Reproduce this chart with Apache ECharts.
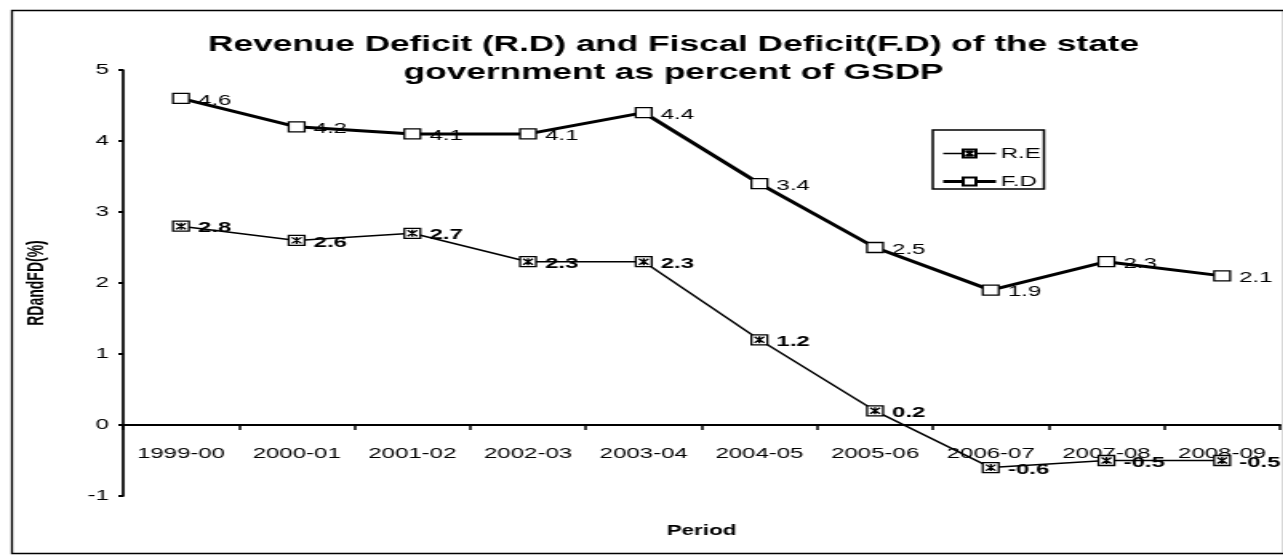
<!DOCTYPE html>
<html><head><meta charset="utf-8">
<script src="https://cdn.jsdelivr.net/npm/echarts@6/dist/echarts.min.js"></script>
<style>
html,body{margin:0;padding:0;background:#fff;overflow:hidden}
#wrap{width:1283px;height:560px;overflow:hidden}
#c{width:802px;height:560px;transform:scaleX(1.6);transform-origin:0 0}
</style>
</head><body><div id="wrap"><div id="c"></div></div>
<script>
const categories = ['1999-00','2000-01','2001-02','2002-03','2003-04','2004-05','2005-06','2006-07','2007-08','2008-09'];
const reValues = [2.8, 2.6, 2.7, 2.3, 2.3, 1.2, 0.2, -0.6, -0.5, -0.5];
const fdValues = [4.6, 4.2, 4.1, 4.1, 4.4, 3.4, 2.5, 1.9, 2.3, 2.1];
const yTicks = [-1, 0, 1, 2, 3, 4, 5];

const font = 'Liberation Sans, Arial, sans-serif';
const reSymbol = 'path://M0,0H10V10H0Z M2,2L8,8 M8,2L2,8 M5,1.5V8.5';
const chart = echarts.init(document.getElementById('c'));
chart.setOption({
  animation: false,
  backgroundColor: '#fff',
  title: {
    text: 'Revenue Deficit (R.D) and Fiscal Deficit(F.D) of the state\ngovernment as percent of GSDP',
    left: 416, top: 26, textAlign: 'center',
    textStyle: { fontFamily: font, fontSize: 22, fontWeight: 'bold', color: '#000', lineHeight: 28 }
  },
  legend: {
    left: 583, top: 130, orient: 'vertical',
    itemWidth: 33, itemHeight: 10, itemGap: 13,
    padding: [16, 2, 0, 5],
    borderColor: '#000', borderWidth: 1.5, borderRadius: 0,
    textStyle: { fontFamily: font, fontSize: 15, color: '#000', padding: [0, 0, 0, -2] },
    data: [
      { name: 'R.E', lineStyle: { width: 1.5, color: '#000' } },
      { name: 'F.D', lineStyle: { width: 3, color: '#000' } }
    ]
  },
  grid: { left: 77, right: 2, top: 70, bottom: 64, outerBoundsMode: 'none', containLabel: false },
  xAxis: {
    type: 'category', data: categories, boundaryGap: true,
    name: 'Period', nameLocation: 'middle', nameGap: 28,
    nameTextStyle: { fontFamily: font, fontSize: 14, fontWeight: 'bold', color: '#000' },
    axisLine: { onZero: true, lineStyle: { color: '#000', width: 2 } },
    axisTick: { show: true, alignWithLabel: false, length: 5, inside: false, lineStyle: { color: '#000', width: 1.5 } },
    axisLabel: { fontFamily: font, fontSize: 15, color: '#000', margin: -50 },
    splitLine: { show: false }
  },
  yAxis: {
    type: 'value', min: -1, max: 5, interval: 1,
    name: 'RDandFD(%)', nameLocation: 'middle', nameGap: 47, nameRotate: 90,
    nameTextStyle: { fontFamily: font, fontSize: 14, fontWeight: 'bold', color: '#000' },
    axisLine: { show: true, lineStyle: { color: '#000', width: 1.7 } },
    axisTick: { show: true, length: 3, lineStyle: { color: '#000', width: 2 } },
    axisLabel: { fontFamily: font, fontSize: 15, color: '#000', margin: 9,
      formatter: v => yTicks.includes(v) ? String(v) : '' },
    splitLine: { show: false }
  },
  series: [
    {
      name: 'R.E', type: 'line', data: reValues,
      symbol: reSymbol, symbolSize: [10, 10], showAllSymbol: true,
      lineStyle: { color: '#000', width: 1.5 },
      itemStyle: { color: '#fff', borderColor: '#000', borderWidth: 1.3 },
      label: { show: true, position: 'right', distance: 5, fontFamily: font, fontSize: 15, fontWeight: 'bold', color: '#000', offset: [0, 2] },
      z: 3
    },
    {
      name: 'F.D', type: 'line', data: fdValues,
      symbol: 'rect', symbolSize: [10, 10], showAllSymbol: true,
      lineStyle: { color: '#000', width: 3 },
      itemStyle: { color: '#fff', borderColor: '#000', borderWidth: 1.3 },
      label: { show: true, position: 'right', distance: 5, fontFamily: font, fontSize: 15, color: '#000', offset: [0, 2] },
      z: 3
    }
  ],
  graphic: [{
    type: 'rect', left: 5, top: 8, shape: { width: 795, height: 543 },
    style: { fill: 'none', stroke: '#000', lineWidth: 1.3 }, silent: true, z: -1
  }]
});
</script></body></html>
